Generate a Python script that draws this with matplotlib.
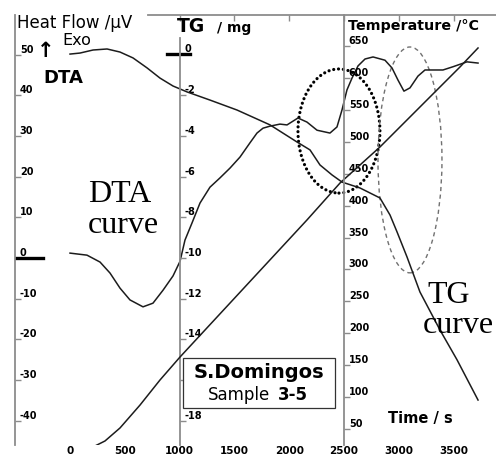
import matplotlib
matplotlib.use("Agg")
import matplotlib.pyplot as plt
from matplotlib.patches import Ellipse, Rectangle

plt.rcParams['axes.unicode_minus'] = False

# tick values of the three y scales and the time axis
time_ticks = [0, 500, 1000, 1500, 2000, 2500, 3000, 3500]
dta_ticks = [50, 40, 30, 20, 10, 0, -10, -20, -30, -40]
tg_ticks = [0, -2, -4, -6, -8, -10, -12, -14, -16, -18]
# the -16 label is hidden behind the sample box in the original
tg_labels = ['0', '-2', '-4', '-6', '-8', '-10', '-12', '-14', '', '-18']
temp_ticks = [50, 100, 150, 200, 250, 300, 350, 400, 450, 500, 550, 600, 650]

# DTA signal (uV) vs time (s)
dta_time = [0, 155, 274, 365, 456, 547, 666, 757, 849, 940, 1004, 1049, 1113,
            1186, 1277, 1369, 1460, 1551, 1642, 1706, 1761, 1825, 1916, 1980,
            2080, 2162, 2254, 2372, 2436, 2482, 2527, 2573, 2628, 2692, 2765,
            2874, 2938, 2993, 3047, 3102, 3175, 3239, 3312, 3403, 3495, 3622, 3723]
dta_signal = [1.2, 0.7, -1.0, -3.7, -7.4, -10.3, -12.0, -11.1, -7.9, -4.4, -0.8,
              4.4, 8.6, 13.5, 17.4, 19.7, 22.1, 24.8, 28.3, 30.7, 31.9, 32.4,
              32.9, 32.7, 34.4, 33.4, 31.4, 30.7, 32.2, 36.4, 41.3, 44.2, 47.2,
              48.9, 49.4, 48.6, 46.7, 43.7, 41.0, 41.8, 44.7, 46.2, 46.2, 46.2,
              47.0, 48.2, 47.9]

# TG mass change (mg) vs time (s)
tg_time = [0, 91, 210, 338, 456, 575, 703, 821, 940, 1068, 1277, 1524, 1825,
           2071, 2190, 2281, 2391, 2482, 2646, 2828, 2920, 2984, 3075, 3193,
           3376, 3531, 3723]
tg_mass = [0.02, 0.07, 0.22, 0.27, 0.12, -0.17, -0.66, -1.16, -1.55, -1.84,
           -2.24, -2.73, -3.46, -4.30, -4.69, -5.43, -5.92, -6.27, -6.56, -7.05,
           -7.89, -8.72, -9.95, -11.67, -13.54, -15.0, -16.98]

# furnace temperature (C) vs time (s)
temp_time = [0, 137, 228, 319, 456, 639, 821, 1004, 2162, 2464, 2828, 3193, 3558, 3723]
temp_value = [20.2, 21.8, 23.4, 31.2, 51.6, 87.6, 126.8, 162.9, 377.6, 435.6,
              492.0, 554.7, 617.4, 647.2]

W, H = 496, 455
grey = '#8c8c8c'
ink = '#1c1c1c'


def px(x, y):
    return x / W, 1 - y / H


def inner_axis(a, ticks, labels=None):
    a.set_yticks(ticks)
    if labels is not None:
        a.set_yticklabels(labels)
    a.yaxis.set_ticks_position('left')
    a.tick_params(axis='y', direction='in', length=4, width=1, color=grey,
                  pad=-3.5, labelsize=7)
    plt.setp(a.get_yticklabels(), ha='left', va='bottom', fontweight='bold')


fig = plt.figure(figsize=(W / 100, H / 100), dpi=100)
ax = fig.add_axes([15 / W, 10 / H, 481 / W, 430 / H])
ax.set_xlim(-502, 3887)
ax.set_ylim(-45.95, 59.71)

ax_tg = ax.twinx()
ax_tg.set_ylim(-19.19, 1.94)
ax_t = ax.twinx()
ax_t.set_ylim(24.92, 698.9)

# frame
for a in (ax, ax_tg, ax_t):
    for s in a.spines.values():
        s.set_visible(False)
ax.spines['left'].set_visible(True)
ax.spines['top'].set_visible(True)
ax.spines['top'].set_bounds(712, 3887)
for a, pos in ((ax_tg, 1000), (ax_t, 2500)):
    a.spines['left'].set_visible(True)
    a.spines['left'].set_position(('data', pos))
ax_tg.spines['left'].set_bounds(-19.19, 0.81)
for a in (ax, ax_tg, ax_t):
    for s in a.spines.values():
        s.set_color(grey)
        s.set_linewidth(1.3)

inner_axis(ax, dta_ticks)
inner_axis(ax_tg, tg_ticks, tg_labels)
inner_axis(ax_t, temp_ticks)

ax.set_xticks(time_ticks)
ax.tick_params(axis='x', bottom=False, top=True, labelbottom=True, labeltop=False,
               direction='in', length=4, width=1, color=grey, labelsize=7.5, pad=0.5)
plt.setp(ax.get_xticklabels(), fontweight='bold')
for tk in ax.xaxis.get_major_ticks()[:2]:
    tk.tick2line.set_visible(False)

# heavy zero marks
ax.axhline(0, xmin=0, xmax=28 / 481, color='black', lw=2.4)
ax_tg.axhline(0, xmin=152 / 481, xmax=175 / 481, color='black', lw=2.4)

# curves
ax.plot(dta_time, dta_signal, color=ink, lw=1.1)
ax_tg.plot(tg_time, tg_mass, color=ink, lw=1.1)
ax_t.plot(temp_time, temp_value, color=ink, lw=1.1)

# highlighted regions
ax.add_patch(Ellipse((2454, 31.2), 748, 30.5, fill=False, ec='black', lw=2.3,
                     ls=(0, (0.01, 1.5)), capstyle='round'))
ax.add_patch(Ellipse((3102, 24.1), 584, 55.5, fill=False, ec='#707070', lw=1.0,
                     ls=(0, (3, 2.5))))

# sample box
ax_t.add_patch(Rectangle((168 / 481, 37 / 430), 152 / 481, 50 / 430,
                         transform=ax_t.transAxes, fc='white', ec='#333333',
                         lw=0.9, zorder=5))
fig.text(*px(259, 378), 'S.Domingos', ha='center', va='baseline',
         fontsize=14, fontweight='bold')
fig.text(*px(208, 400), 'Sample', ha='left', va='baseline', fontsize=12)
fig.text(*px(278, 400), '3-5', ha='left', va='baseline', fontsize=12, fontweight='bold')

# axis titles
fig.text(*px(17, 28), 'Heat Flow /μV', ha='left', va='baseline', fontsize=12)
fig.text(*px(62, 45), 'Exo', ha='left', va='baseline', fontsize=11.5)
fig.text(*px(46, 51), '↑', ha='center', va='center', fontsize=15, fontweight='bold')
fig.text(*px(43, 83), 'DTA', ha='left', va='baseline', fontsize=13, fontweight='bold')
fig.text(*px(177, 32), 'TG', ha='left', va='baseline', fontsize=13.5, fontweight='bold')
fig.text(*px(217, 32), '/ mg', ha='left', va='baseline', fontsize=10, fontweight='bold')
fig.text(*px(348, 30), 'Temperature /°C', ha='left', va='baseline', fontsize=10.3,
         fontweight='bold')
fig.text(*px(388, 423), 'Time / s', ha='left', va='baseline', fontsize=10.5,
         fontweight='bold')

# curve names
serif = dict(family='Liberation Serif', fontsize=23, ha='left', va='baseline')
fig.text(*px(88, 202), 'DTA', **serif)
fig.text(*px(88, 233), 'curve', **serif)
fig.text(*px(427, 303), 'TG', **serif)
fig.text(*px(423, 333), 'curve', **serif)

fig.savefig('out.png', dpi=100)
